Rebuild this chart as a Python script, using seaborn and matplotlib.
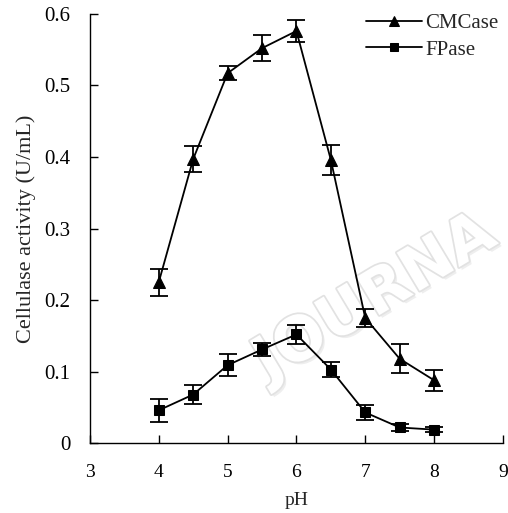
import matplotlib
matplotlib.use("Agg")
import matplotlib.pyplot as plt
import matplotlib.patheffects as pe
import seaborn as sns
import numpy as np
import pandas as pd

ph = [4, 4.5, 5, 5.5, 6, 6.5, 7, 7.5, 8]
cmcase = [0.225, 0.397, 0.517, 0.552, 0.576, 0.396, 0.175, 0.118, 0.088]
cmcase_err = [0.019, 0.018, 0.010, 0.018, 0.016, 0.021, 0.013, 0.020, 0.015]
fpase = [0.046, 0.068, 0.109, 0.131, 0.152, 0.103, 0.043, 0.022, 0.019]
fpase_err = [0.016, 0.013, 0.015, 0.009, 0.013, 0.010, 0.010, 0.005, 0.004]

sns.set_theme(style="ticks")
plt.rcParams['font.family'] = ['Liberation Serif', 'DejaVu Serif']

df = pd.DataFrame({
    "pH": ph * 2,
    "activity": cmcase + fpase,
    "enzyme": ["CMCase"] * len(ph) + ["FPase"] * len(ph),
})

fig = plt.figure(figsize=(5.08, 5.13), dpi=100)
ax = fig.add_axes([0.177, 0.136, 0.813, 0.837])

# faint watermark behind the data (runs off the right edge like the original)
ax.text(268 / 508, 1 - 382 / 513, "JOURNA", transform=fig.transFigure,
        fontsize=44, rotation=31, rotation_mode="anchor", ha="left", va="baseline",
        color="white", fontweight="bold", family="DejaVu Sans", zorder=1, clip_on=False,
        path_effects=[pe.withSimplePatchShadow(offset=(2, -2), shadow_rgbFace="#eeeeee", alpha=1),
                      pe.withStroke(linewidth=2.5, foreground="#e2e2e2")])

for vals, errs in [(cmcase, cmcase_err), (fpase, fpase_err)]:
    ax.errorbar(ph, vals, yerr=errs, fmt="none", ecolor="black",
                elinewidth=1.3, capsize=6.5, capthick=1.3, zorder=2)

sns.lineplot(data=df, x="pH", y="activity", hue="enzyme", style="enzyme",
             markers={"CMCase": "^", "FPase": "s"}, dashes=False,
             palette={"CMCase": "black", "FPase": "black"},
             markersize=8, linewidth=1.3, markeredgecolor="black",
             ax=ax, zorder=3)
# squares a bit smaller than triangles
for ln in ax.lines:
    if ln.get_marker() == "s":
        ln.set_markersize(6.5)

ax.set_xlim(3, 9)
ax.set_ylim(0, 0.6)
ax.set_xticks([3, 4, 5, 6, 7, 8, 9])
ax.set_yticks([0, 0.1, 0.2, 0.3, 0.4, 0.5, 0.6])
ax.set_yticklabels(["0", "0.1", "0.2", "0.3", "0.4", "0.5", "0.6"])
ax.tick_params(direction="in", length=6, width=1, colors="black")
ax.tick_params(axis="x", labelsize=14, pad=15)
ax.tick_params(axis="y", labelsize=15, pad=14)
ax.set_xlabel("pH", fontsize=14, labelpad=8)
ax.set_ylabel("Cellulase activity (U/mL)", fontsize=16, labelpad=6)
sns.despine(ax=ax)
for s in ["left", "bottom"]:
    ax.spines[s].set_color("black")
    ax.spines[s].set_linewidth(1)

leg = ax.legend(title=None, frameon=False, fontsize=15, loc="upper right",
                bbox_to_anchor=(1.035, 1.045), handlelength=2.7, handletextpad=0.15,
                labelspacing=0.35)
for h in leg.legend_handles:
    h.set_markersize(7 if h.get_marker() == "^" else 5.5)

fig.savefig("out.png", dpi=100)
